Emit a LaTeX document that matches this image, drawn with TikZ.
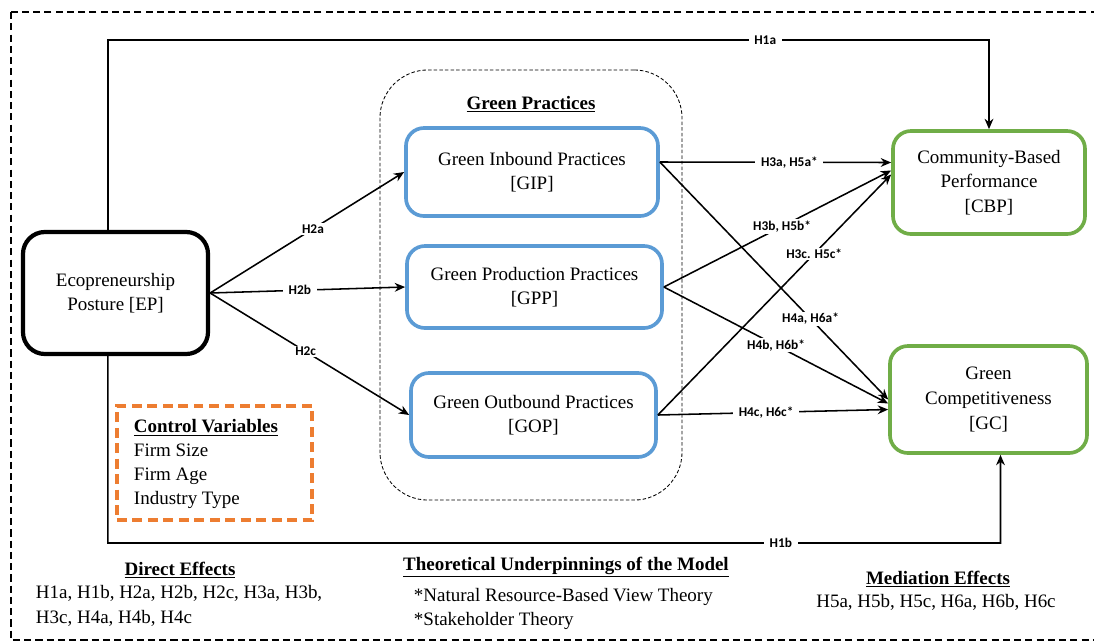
\documentclass[tikz,border=0pt]{standalone}
\usepackage{fontspec}
\setmainfont{Liberation Serif}
\newfontfamily\hypfont{Carlito}
\usepackage{tikz}
\usetikzlibrary{arrows.meta}
\definecolor{boxblue}{RGB}{91,155,213}
\definecolor{boxgreen}{RGB}{112,173,71}
\definecolor{boxorange}{RGB}{237,125,49}

\begin{document}
\begin{tikzpicture}
	[x=0.025cm, y=-0.025cm,
	every node/.style={font=\fontsize{13.5}{17.5}\selectfont, align=center},
	construct/.style={draw, rounded corners=0.45cm, line width=2.6pt, inner sep=0pt},
	practice/.style={construct, draw=boxblue},
	outcome/.style={construct, draw=boxgreen},
	link/.style={line width=1.1pt, -{Stealth[length=2.6mm,width=2.2mm]}},
	hyp/.style={font=\hypfont\bfseries\fontsize{9.5}{11}\selectfont, fill=white, inner xsep=4pt, inner ysep=1pt},
	heading/.style={font=\bfseries\fontsize{13.5}{17.5}\selectfont}]
	\useasboundingbox (0,0) rectangle (1094,641);
	\draw[line width=1.6pt, dash pattern=on 5pt off 3pt] (11,12) rectangle (1130,640);

	\node[construct, line width=3pt, rounded corners=0.55cm, minimum width=4.625cm, minimum height=3.05cm] (ep) at (115.5,293) {Ecopreneurship\\Posture [EP]};

	\node[draw, line width=0.6pt, dash pattern=on 2.5pt off 1.5pt, rounded corners=1.2cm, minimum width=7.55cm, minimum height=10.75cm] (gp) at (531,285) {};
	\node[heading] (gptitle) at (531,104) {\underline{Green Practices}};
	\node[practice, minimum width=6.3cm, minimum height=2.2cm] (gip) at (532,172) {Green Inbound Practices\\{[GIP]}};
	\node[practice, minimum width=6.375cm, minimum height=2.05cm] (gpp) at (534.5,287) {Green Production Practices\\{[GPP]}};
	\node[practice, minimum width=6.125cm, minimum height=2.1cm] (gop) at (533.5,415) {Green Outbound Practices\\{[GOP]}};

	\node[outcome, minimum width=4.8cm, minimum height=2.575cm] (cbp) at (989,182.5) {Community-Based\\Performance\\{[CBP]}};
	\node[outcome, minimum width=4.925cm, minimum height=2.675cm] (gc) at (988.5,399.5) {Green\\Competitiveness\\{[GC]}};

	\node[draw=boxorange, line width=2.8pt, dash pattern=on 7pt off 4pt, minimum width=4.875cm, minimum height=2.85cm] (ctrl) at (214.5,463) {};
	\node[anchor=west, align=left, font=\fontsize{13.5}{17}\selectfont] (ctrltext) at (129,464) {\textbf{\underline{Control Variables}}\\Firm Size\\Firm Age\\Industry Type};

	\coordinate (h1a) at (989,40);
	\coordinate (h1b) at (1000.5,543);
	\draw[link] ([xshift=-0.19cm]ep.north) |- node[hyp,pos=0.873]{H1a} (h1a) -- (cbp.north);
	\draw[link] ([xshift=-0.19cm]ep.south) |- node[hyp,pos=0.877]{H1b} (h1b) -- ([xshift=0.3cm]gc.south);

	\draw[link] (ep.east) -- node[hyp,pos=0.53]{H2a} (gip.west);
	\draw[link] (ep.east) -- node[hyp,pos=0.46]{H2b} (gpp.west);
	\draw[link] (ep.east) -- node[hyp,pos=0.48]{H2c} (gop.west);

	\draw[link] ([yshift=0.25cm]gip.east) -- node[hyp,pos=0.56]{H3a, H5a*} ([yshift=0.5cm]cbp.west);
	\draw[link] (gpp.east) -- node[hyp,pos=0.52]{H3b, H5b*} ([yshift=0.3cm]cbp.west);
	\draw[link] (gop.east) -- node[hyp,pos=0.67]{H3c. H5c*} ([yshift=0.2cm]cbp.west);
	\draw[link] ([yshift=0.25cm]gip.east) -- node[hyp,pos=0.66]{H4a, H6a*} (gc.west);
	\draw[link] (gpp.east) -- node[hyp,pos=0.5]{H4b, H6b*} ([yshift=-0.1cm]gc.west);
	\draw[link] (gop.east) -- node[hyp,pos=0.47]{H4c, H6c*} ([yshift=-0.25cm]gc.west);

	\node[heading] (direct) at (180,570) {\underline{Direct Effects}};
	\node[anchor=west, align=left] (directlist) at (31,606) {H1a, H1b, H2a, H2b, H2c, H3a, H3b,\\H3c, H4a, H4b, H4c};
	\node[heading] (theory) at (566,567) {\underline{Theoretical Underpinnings of the Model}};
	\node[anchor=west, align=left] (theorylist) at (409,609) {*Natural Resource-Based View Theory\\*Stakeholder Theory};
	\node[heading] (mediation) at (938,579) {\underline{Mediation Effects}};
	\node (mediationlist) at (936,602) {H5a, H5b, H5c, H6a, H6b, H6c};
\end{tikzpicture}
\end{document}
